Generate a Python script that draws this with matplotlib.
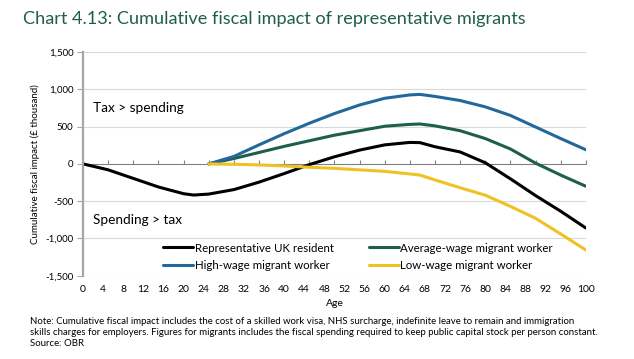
import numpy as np
import matplotlib
matplotlib.use("Agg")
import matplotlib.pyplot as plt
from matplotlib.ticker import FixedLocator, NullFormatter, FuncFormatter

plt.rcParams['font.family'] = ['Lato', 'DejaVu Sans']

# values (£ thousand)
uk_age = [0, 5, 10, 15, 20, 22, 25, 30, 35, 40, 45, 50, 55, 60, 65, 67, 70, 75, 80, 85, 90, 95, 100]
uk_val = [0, -80, -195, -310, -400, -418, -405, -345, -245, -130, -10, 95, 185, 255, 288, 285, 230, 160, 15, -200, -425, -635, -860]

mig_age = [25, 30, 35, 40, 45, 50, 55, 60, 65, 67, 70, 75, 80, 85, 90, 95, 100]
high_val = [0, 100, 255, 405, 545, 675, 790, 880, 925, 932, 905, 850, 765, 650, 495, 340, 190]
avg_val = [0, 72, 153, 235, 310, 385, 445, 505, 530, 535, 510, 445, 340, 200, 10, -150, -300]
low_val = [0, -5, -14, -28, -45, -60, -80, -100, -135, -150, -215, -320, -420, -570, -730, -940, -1155]

c_uk = '#000000'
c_avg = '#1E5E4C'
c_high = '#22689B'
c_low = '#EEC124'
grey = '#A6A6A6'

fig = plt.figure(figsize=(6.34, 3.59), dpi=100)
ax = fig.add_axes([0.131, 0.232, 0.793, 0.623])

l_uk, = ax.plot(uk_age, uk_val, color=c_uk, lw=2.2, solid_capstyle='round')
l_avg, = ax.plot(mig_age, avg_val, color=c_avg, lw=2.2, solid_capstyle='round')
l_high, = ax.plot(mig_age, high_val, color=c_high, lw=2.2, solid_capstyle='round')
l_low, = ax.plot(mig_age, low_val, color=c_low, lw=2.2, solid_capstyle='round')

ax.set_xlim(0, 100)
ax.set_ylim(-1500, 1500)
ax.set_yticks(np.arange(-1500, 1501, 500))
ax.yaxis.set_major_formatter(FuncFormatter(lambda v, p: f'{int(v):,}'))
for y in np.arange(-1500, 1501, 500):
    if y != 0:
        ax.axhline(y, color='#D9D9D9', lw=0.8, zorder=0)

for s in ['top', 'right', 'bottom']:
    ax.spines[s].set_visible(False)
ax.spines['left'].set_color(grey)
ax.spines['left'].set_linewidth(1.6)
ax.tick_params(axis='y', length=4, color=grey, labelsize=7, pad=3)

ax.set_xticks(np.arange(0, 101, 4))
ax.tick_params(axis='x', length=0, labelsize=7.5, pad=7)

# horizontal axis crossing at zero
sec = ax.secondary_xaxis(0.5)
sec.xaxis.set_major_locator(FixedLocator(np.arange(0, 101, 5)))
sec.xaxis.set_major_formatter(NullFormatter())
sec.tick_params(axis='x', length=3, color='#808080', direction='out')
sec.spines['bottom'].set_color('#808080')
sec.spines['top'].set_color('#808080')
sec.spines['bottom'].set_linewidth(0.9)

ax.set_xlabel('Age', fontsize=7.5, labelpad=3)
ax.set_ylabel('Cumulative fiscal impact (£ thousand)', fontsize=7, labelpad=4)

ax.text(2, 750, 'Tax > spending', fontsize=9.8, va='center')
ax.text(2, -750, 'Spending > tax', fontsize=9.8, va='center')

ax.legend([l_uk, l_high, l_avg, l_low],
          ['Representative UK resident', 'High-wage migrant worker',
           'Average-wage migrant worker', 'Low-wage migrant worker'],
          loc='center', bbox_to_anchor=(0.565, 0.285), bbox_transform=fig.transFigure,
          ncol=2, frameon=False, fontsize=8.3, handlelength=2.6, handletextpad=0.15,
          columnspacing=3.0, labelspacing=0.55)

fig.text(0.037, 0.948, 'Chart 4.13: Cumulative fiscal impact of representative migrants',
         fontsize=13.1, color='#1E5E4C', va='center')
fig.text(0.047, 0.03,
         'Note: Cumulative fiscal impact includes the cost of a skilled work visa, NHS surcharge, indefinite leave to remain and immigration\n'
         'skills charges for employers. Figures for migrants includes the fiscal spending required to keep public capital stock per person constant.\n'
         'Source: OBR', fontsize=6.95, va='bottom', linespacing=1.3)

fig.savefig('out.png', dpi=100)
